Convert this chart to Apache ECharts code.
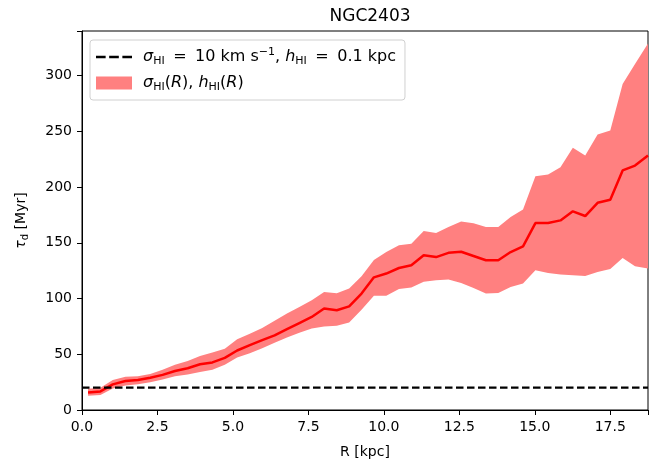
<!DOCTYPE html>
<html>
<head>
<meta charset="utf-8">
<script src="https://cdn.jsdelivr.net/npm/echarts@6/dist/echarts.min.js"></script>
<style>
html, body { margin: 0; padding: 0; background: #fff; }
#chart { width: 666px; height: 468px; }
</style>
</head>
<body>
<div id="chart"></div>
<script>
// radius of the rings [kpc]
var radius = [0.20, 0.61, 1.02, 1.44, 1.85, 2.26, 2.67, 3.08, 3.50, 3.91,
              4.32, 4.73, 5.14, 5.56, 5.97, 6.38, 6.79, 7.20, 7.61, 8.02,
              8.44, 8.85, 9.26, 9.67, 10.08, 10.50, 10.91, 11.32, 11.73, 12.14,
              12.56, 12.97, 13.38, 13.79, 14.20, 14.61, 15.02, 15.44, 15.85, 16.26,
              16.67, 17.08, 17.50, 17.91, 18.32, 18.75];
// tau_d [Myr], middle line and band edges
var tauMid = [15.8, 16.7, 23, 26, 27, 29, 31.5, 35, 37.5, 41,
              42.7, 46.8, 53.4, 58.2, 62.7, 67, 72.5, 78, 83.5, 91,
              89.5, 93, 104.5, 119, 122.4, 127.4, 129.8, 138.8, 137.2, 141,
              142, 138.2, 134.3, 134.3, 141.7, 146.8, 167.7, 167.7, 170.1, 178.2,
              174, 185.9, 188.6, 214.9, 219.3, 228.3];
var tauUpper = [19, 20, 27, 29.8, 30.2, 32.4, 36, 40.5, 44, 48.5,
                51.5, 55, 63.5, 68.5, 73.5, 80, 86.5, 92.5, 98.5, 105.9,
                104.8, 109, 120, 134.5, 141.7, 147.7, 149.2, 160.5, 158.7, 164.1,
                169, 167.5, 164.1, 164.1, 173.1, 179.9, 209.8, 211.3, 217.8, 235.2,
                228.3, 247.1, 250.7, 292.5, 310.4, 328.8];
var tauLower = [12.8, 13.4, 19.3, 22, 23, 25, 27.3, 30.3, 31.8, 34,
                36, 40.5, 47, 51, 55.5, 60.3, 65, 69.2, 73.1, 75,
                75.5, 78.5, 90, 102.5, 102.5, 108.5, 110, 115, 116.4, 117,
                114, 109.5, 104.5, 105, 110.4, 113.4, 125.3, 122.9, 121.5, 120.9,
                120.2, 123.8, 126.5, 136.4, 128.9, 126.9];
// constant case: sigma = 10 km/s, h = 0.1 kpc
var tauConst = 20;

var xMax = 18.75;
var yMax = 340;

var font = 'DejaVu Sans';
function richSet(size, sub) {
  return {
    n: { fontFamily: font, fontSize: size, lineHeight: size + 4, color: '#000' },
    i: { fontFamily: font, fontSize: size, lineHeight: size + 4, fontStyle: 'italic', color: '#000' },
    g: { fontFamily: font, fontSize: size, lineHeight: size + 4, width: 8.5 },
    s: { fontFamily: font, fontSize: sub, lineHeight: sub, verticalAlign: 'bottom', color: '#000' },
    p: { fontFamily: font, fontSize: sub, lineHeight: sub, verticalAlign: 'top', color: '#000' }
  };
}

var bandData = radius.map(function (r, i) { return [r, tauLower[i], tauUpper[i]]; });
var midData = radius.map(function (r, i) { return [r, tauMid[i]]; });

var myChart = echarts.init(document.getElementById('chart'));
var option = {
  animation: false,
  backgroundColor: '#fff',
  title: {
    text: 'NGC2403',
    left: 365,
    top: 3,
    textAlign: 'center',
    textStyle: { fontFamily: font, fontSize: 17, fontWeight: 'normal', color: '#000' }
  },
  grid: {
    left: 82, right: 18, top: 31, bottom: 58,
    show: true, borderColor: '#000', borderWidth: 1, backgroundColor: 'transparent'
  },
  legend: {
    orient: 'vertical',
    left: 90, top: 40,
    padding: [7, 9, 7, 6],
    itemGap: 8,
    itemWidth: 36,
    itemHeight: 13,
    backgroundColor: '#fff',
    borderColor: '#d0d0d0',
    borderWidth: 1,
    borderRadius: 3,
    data: [
      { name: 'const', icon: 'path://M0,0H9.5V2.6H0Z M13,0H22.5V2.6H13Z M26,0H35.5V2.6H26Z' },
      { name: 'var', icon: 'rect' }
    ],
    formatter: function (name) {
      if (name === 'const') {
        return '{i|σ}{s|HI}{g| }{n|=}{g| }{n|10 km s}{p|−1}{n|, }{i|h}{s|HI}{g| }{n|=}{g| }{n|0.1 kpc}';
      }
      return '{i|σ}{s|HI}{n|(}{i|R}{n|), }{i|h}{s|HI}{n|(}{i|R}{n|)}';
    },
    textStyle: { fontFamily: font, fontSize: 16, color: '#000', padding: [0, 0, 0, 6], rich: richSet(16, 11) }
  },
  xAxis: {
    type: 'value',
    min: 0, max: xMax, interval: 2.5,
    name: 'R [kpc]',
    nameLocation: 'middle',
    nameGap: 35,
    nameTextStyle: { fontFamily: font, fontSize: 14, color: '#000' },
    axisLine: { show: true, lineStyle: { color: '#000', width: 1 } },
    axisTick: { show: true, length: 5, lineStyle: { color: '#000' } },
    axisLabel: {
      margin: 10,
      fontFamily: font, fontSize: 14, color: '#000',
      formatter: function (v) {
        return Math.abs(v / 2.5 - Math.round(v / 2.5)) < 1e-6 ? v.toFixed(1) : '';
      }
    },
    splitLine: { show: false }
  },
  yAxis: {
    type: 'value',
    min: 0, max: yMax, interval: 50,
    name: '{i|τ}{s|d}{n| [Myr]}',
    nameLocation: 'middle',
    nameGap: 52,
    nameRotate: 90,
    nameTextStyle: { fontFamily: font, fontSize: 14, color: '#000', rich: richSet(14, 10) },
    axisLine: { show: true, lineStyle: { color: '#000', width: 1 } },
    axisTick: { show: true, length: 5, lineStyle: { color: '#000' } },
    axisLabel: {
      margin: 10,
      fontFamily: font, fontSize: 14, color: '#000',
      formatter: function (v) { return v % 50 === 0 ? String(v) : ''; }
    },
    splitLine: { show: false }
  },
  series: [
    {
      name: 'var',
      type: 'custom',
      coordinateSystem: 'cartesian2d',
      silent: true,
      z: 1,
      itemStyle: { color: '#ff8080' },
      encode: { x: 0, y: [1, 2] },
      data: bandData,
      renderItem: function (params, api) {
        if (params.dataIndex !== 0) return null;
        var pts = [];
        for (var i = 0; i < bandData.length; i++) {
          pts.push(api.coord([bandData[i][0], bandData[i][2]]));
        }
        for (var j = bandData.length - 1; j >= 0; j--) {
          pts.push(api.coord([bandData[j][0], bandData[j][1]]));
        }
        return { type: 'polygon', shape: { points: pts }, style: { fill: '#ff8080', stroke: null } };
      }
    },
    {
      name: 'mid',
      type: 'line',
      symbol: 'none',
      z: 3,
      data: midData,
      lineStyle: { color: '#ff0000', width: 2.5 }
    },
    {
      name: 'const',
      type: 'line',
      symbol: 'none',
      z: 4,
      data: [[0, tauConst], [xMax, tauConst]],
      itemStyle: { color: '#000' },
      lineStyle: { color: '#000', width: 2.2, type: [7.5, 3.5] }
    }
  ]
};
myChart.setOption(option);
</script>
</body>
</html>
